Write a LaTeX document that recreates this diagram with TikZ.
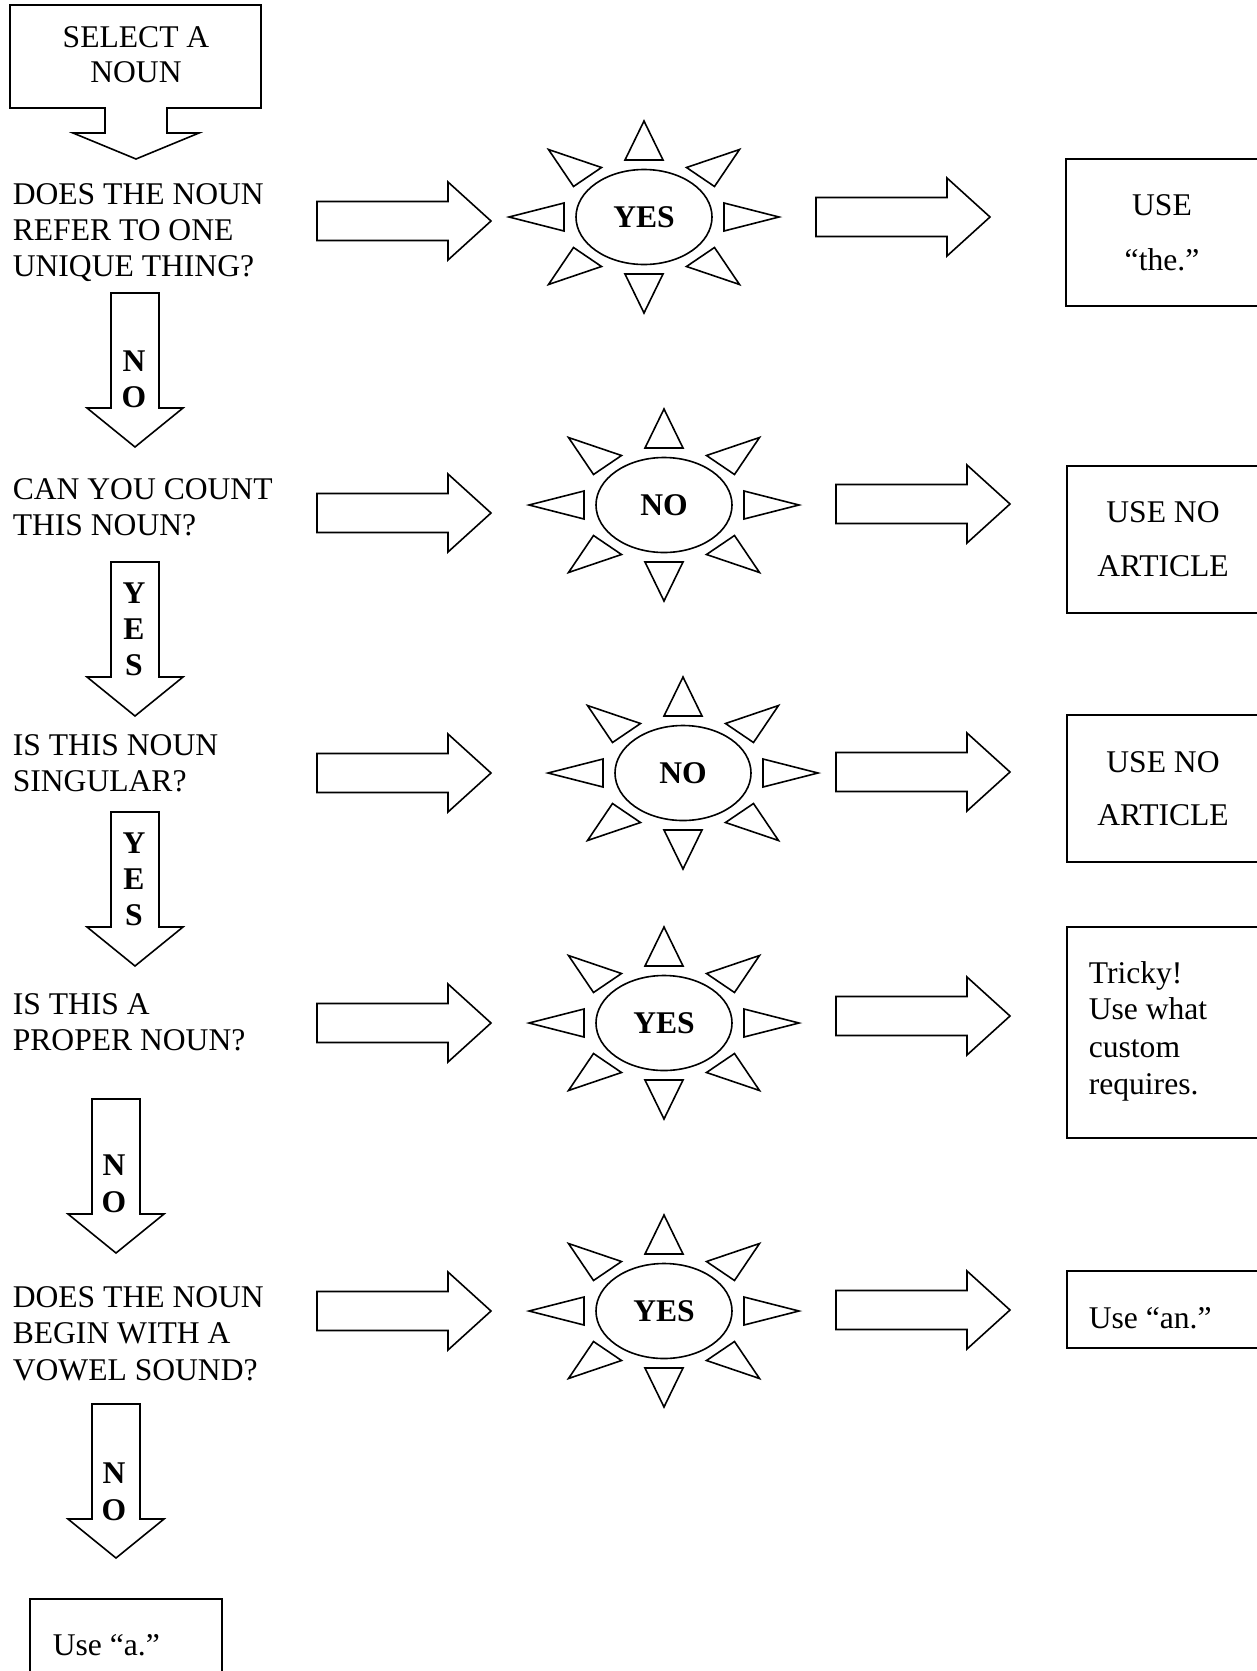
\documentclass[tikz,border=0pt]{standalone}
\usepackage{fontspec}
\setmainfont{Liberation Serif}
\usetikzlibrary{shapes.geometric}

\begin{document}
\begin{tikzpicture}[x=1pt, y=-1pt, line width=1.6pt,
    txt/.style={inner sep=0pt, font=\fontsize{31.6}{36}\selectfont},
    bld/.style={inner sep=0pt, font=\fontsize{31.6}{36}\selectfont\bfseries},
    sunc/.style={ellipse, draw, inner sep=0pt, minimum width=136pt, minimum height=95pt,
        font=\fontsize{31.6}{36}\selectfont\bfseries},
    rays/.pic={
        \draw (-19,-57) -- (19,-57) -- (0,-96) -- cycle;
        \draw (-19,57) -- (19,57) -- (0,96) -- cycle;
        \draw (-80,-14) -- (-80,14) -- (-135,0) -- cycle;
        \draw (80,-14) -- (80,14) -- (135,0) -- cycle;
        \draw (-95.5,-67.5) -- (-42.5,-49.5) -- (-70.5,-30.5) -- cycle;
        \draw (95.5,-67.5) -- (42.5,-49.5) -- (70.5,-30.5) -- cycle;
        \draw (-95.5,67.5) -- (-42.5,49.5) -- (-70.5,30.5) -- cycle;
        \draw (95.5,67.5) -- (42.5,49.5) -- (70.5,30.5) -- cycle;
    },
    rarrow/.pic={
        \draw (0,-19.5) -- (131,-19.5) -- (131,-39) -- (174,0) -- (131,39) -- (131,19.5) -- (0,19.5) -- cycle;
    },
    darrow/.pic={
        \draw (-24,0) -- (-24,115) -- (-48,115) -- (0,154) -- (48,115) -- (24,115) -- (24,0) -- cycle;
    }]

    \clip (0,0) rectangle (1257,1671);

    % the start box
    \draw (10,5) -- (261,5) -- (261,108) -- (167,108) -- (167,133) -- (199,133) -- (136,159)
        -- (73,133) -- (105,133) -- (105,108) -- (10,108) -- cycle;
    \node[txt, anchor=base] (start1) at (136,47) {SELECT A};
    \node[txt, anchor=base] (start2) at (136,82) {NOUN};

    % the questions
    \node[txt, anchor=base west] (q1a) at (12,204) {DOES THE NOUN};
    \node[txt, anchor=base west] (q1b) at (12,240) {REFER TO ONE};
    \node[txt, anchor=base west] (q1c) at (12,276) {UNIQUE THING?};

    \node[txt, anchor=base west] (q2a) at (12,499) {CAN YOU COUNT};
    \node[txt, anchor=base west] (q2b) at (12,535) {THIS NOUN?};

    \node[txt, anchor=base west] (q3a) at (12,755) {IS THIS NOUN};
    \node[txt, anchor=base west] (q3b) at (12,791) {SINGULAR?};

    \node[txt, anchor=base west] (q4a) at (12,1014) {IS THIS A};
    \node[txt, anchor=base west] (q4b) at (12,1050) {PROPER NOUN?};

    \node[txt, anchor=base west] (q5a) at (12,1307) {DOES THE NOUN};
    \node[txt, anchor=base west] (q5b) at (12,1343) {BEGIN WITH A};
    \node[txt, anchor=base west] (q5c) at (12,1380) {VOWEL SOUND?};

    % the down arrows
    \pic at (135,293) {darrow};
    \node[bld, anchor=base] (d1n) at (134,371) {N};
    \node[bld, anchor=base] (d1o) at (134,407) {O};

    \pic at (135,562) {darrow};
    \node[bld, anchor=base] (d2y) at (134,603) {Y};
    \node[bld, anchor=base] (d2e) at (134,639) {E};
    \node[bld, anchor=base] (d2s) at (134,675) {S};

    \pic at (135,812) {darrow};
    \node[bld, anchor=base] (d3y) at (134,853) {Y};
    \node[bld, anchor=base] (d3e) at (134,889) {E};
    \node[bld, anchor=base] (d3s) at (134,925) {S};

    \pic at (116,1099) {darrow};
    \node[bld, anchor=base] (d4n) at (114,1175) {N};
    \node[bld, anchor=base] (d4o) at (114,1212) {O};

    \pic at (116,1404) {darrow};
    \node[bld, anchor=base] (d5n) at (114,1483) {N};
    \node[bld, anchor=base] (d5o) at (114,1520) {O};

    % the arrows to the suns
    \pic at (317,221) {rarrow};
    \pic at (317,513) {rarrow};
    \pic at (317,773) {rarrow};
    \pic at (317,1023) {rarrow};
    \pic at (317,1311) {rarrow};

    % the suns
    \node[sunc] (s1) at (644,217) {YES};
    \pic at (s1.center) {rays};
    \node[sunc] (s2) at (664,505) {NO};
    \pic at (s2.center) {rays};
    \node[sunc] (s3) at (683,773) {NO};
    \pic at (s3.center) {rays};
    \node[sunc] (s4) at (664,1023) {YES};
    \pic at (s4.center) {rays};
    \node[sunc] (s5) at (664,1311) {YES};
    \pic at (s5.center) {rays};

    % the arrows to the answers
    \pic at (816,217) {rarrow};
    \pic at (836,504) {rarrow};
    \pic at (836,772) {rarrow};
    \pic at (836,1016) {rarrow};
    \pic at (836,1310) {rarrow};

    % the answers
    \draw (1066,159) rectangle (1265,306);
    \node[txt, anchor=base] (a1a) at (1162,215) {USE};
    \node[txt, anchor=base] (a1b) at (1162,270) {“the.”};

    \draw (1067,466) rectangle (1265,613);
    \node[txt, anchor=base] (a2a) at (1163,522) {USE NO};
    \node[txt, anchor=base] (a2b) at (1163,576) {ARTICLE};

    \draw (1067,715) rectangle (1265,862);
    \node[txt, anchor=base] (a3a) at (1163,772) {USE NO};
    \node[txt, anchor=base] (a3b) at (1163,825) {ARTICLE};

    \draw (1067,927) rectangle (1265,1138);
    \node[txt, anchor=base west] (a4a) at (1088,983) {Tricky!};
    \node[txt, anchor=base west] (a4b) at (1088,1019) {Use what};
    \node[txt, anchor=base west] (a4c) at (1088,1057) {custom};
    \node[txt, anchor=base west] (a4d) at (1088,1094) {requires.};

    \draw (1067,1271) rectangle (1265,1348);
    \node[txt, anchor=base west] (a5) at (1088,1328) {Use “an.”};

    \draw (30,1599) rectangle (222,1690);
    \node[txt, anchor=base west] (a6) at (52,1655) {Use “a.”};

\end{tikzpicture}
\end{document}
